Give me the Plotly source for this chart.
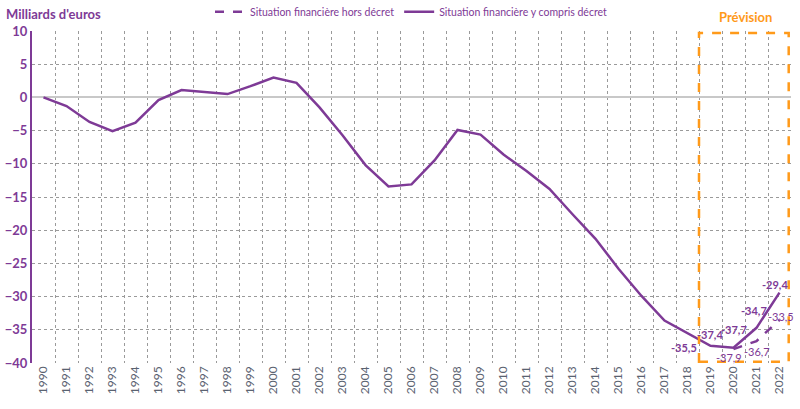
import plotly.graph_objects as go

years = [str(y) for y in range(1990, 2023)]

# situation financière y compris décret (Mds €)
avec_decret = [0.0, -1.3, -3.7, -5.1, -3.8, -0.4, 1.1, 0.8, 0.5, 1.7,
               3.0, 2.2, -1.5, -5.7, -10.2, -13.4, -13.1, -9.5, -4.9, -5.6,
               -8.6, -11.1, -13.8, -17.6, -21.3, -25.8, -29.9, -33.6, -35.5, -37.4,
               -37.7, -34.7, -29.4]

# situation financière hors décret (prévision)
hors_years = ["2020", "2021", "2022"]
hors_decret = [-37.9, -36.7, -33.5]

purple = "#7E3A96"
orange = "#FF9a1a"
font = "Lato"

fig = go.Figure()

fig.add_trace(go.Scatter(
    x=hors_years, y=hors_decret, name="Situation financière hors décret",
    mode="lines", line=dict(color=purple, width=2.5, dash="dash"),
))
fig.add_trace(go.Scatter(
    x=years, y=avec_decret, name="Situation financière y compris décret",
    mode="lines", line=dict(color=purple, width=2.5),
))

# étiquettes de données (x en indice de catégorie)
lbl_solid = {"2018": (-4, -14), "2019": (-1, 11), "2020": (0, 18), "2021": (-3, 17), "2022": (-5, 8)}
for yr, (dx, dy) in lbl_solid.items():
    i = years.index(yr)
    v = avec_decret[i]
    fig.add_annotation(x=i, y=v, text=f"{v:.1f}".replace(".", ","), showarrow=False,
                       xshift=dx, yshift=dy, font=dict(family=font, size=11, color=purple, weight="bold"))
lbl_dash = {"2020": (-5, -8), "2021": (0, -10), "2022": (1, 3)}
for yr, (dx, dy) in lbl_dash.items():
    i = years.index(yr)
    v = hors_decret[hors_years.index(yr)]
    fig.add_annotation(x=i, y=v, text=f"{v:.1f}".replace(".", ","), showarrow=False,
                       xshift=dx, yshift=dy, font=dict(family=font, size=11, color=purple))

# encadré prévision
fig.add_shape(type="rect", xref="x", yref="y", x0=28.5, x1=32.4, y0=-39.8, y1=9.7,
              line=dict(color=orange, width=2.5, dash="dash"))
fig.add_annotation(x=30.5, xref="x", y=1.042, yref="paper", yanchor="middle", text="Prévision",
                   showarrow=False, font=dict(family=font, size=13, color=orange, weight="bold"))

fig.add_annotation(x=0, xref="paper", xanchor="left", xshift=-28, y=1.051, yref="paper",
                   yanchor="middle", text="Milliards d'euros", showarrow=False,
                   font=dict(family=font, size=13, color=purple, weight="bold"))

fig.update_layout(
    width=800, height=409,
    margin=dict(l=32, r=9, t=31, b=46, autoexpand=False),
    plot_bgcolor="white", paper_bgcolor="white",
    font=dict(family=font),
    showlegend=True,
    legend=dict(orientation="h", x=0.5, xanchor="center", y=1.058, yanchor="middle",
                font=dict(size=10.5, color=purple), traceorder="normal"),
)
fig.update_xaxes(
    type="category", categoryorder="array", categoryarray=years,
    range=[-0.5, 32.5], tickson="boundaries", ticks="",
    showgrid=True, gridcolor="#9a9a9a", griddash="dot", gridwidth=1,
    tickangle=-90, tickfont=dict(size=12, color="#5a6270"),
    showline=False, zeroline=False, automargin=False,
)
fig.update_yaxes(
    range=[-40, 10], dtick=5, showgrid=True, gridcolor="#9a9a9a", griddash="dot",
    zeroline=True, zerolinecolor="#c8c8c8", zerolinewidth=2,
    showline=True, linecolor=purple, linewidth=2, automargin=False,
    tickfont=dict(size=13, color=purple, weight="bold"),
)

fig.write_html("out.html", config={"displayModeBar": False},
               post_script="document.body.style.margin='0';")
